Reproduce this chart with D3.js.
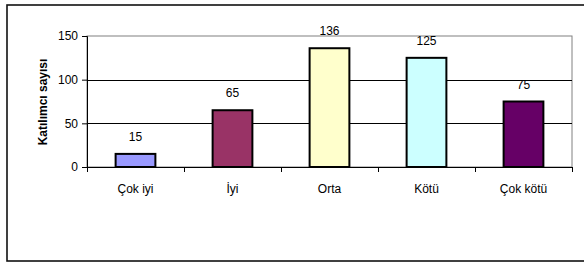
<!DOCTYPE html>
<html>
<head>
<meta charset="utf-8">
<script src="https://cdn.jsdelivr.net/npm/d3@7"></script>
<style>
  body { margin: 0; background: #fff; }
  svg text { font-family: "Liberation Sans", Arial, sans-serif; }
</style>
</head>
<body>
<div id="chart"></div>
<script>
// data
const categories = ['Çok iyi', 'İyi', 'Orta', 'Kötü', 'Çok kötü'];
const values = [15, 65, 136, 125, 75];
const barColors = ['#9999ff', '#993366', '#ffffcc', '#ccffff', '#660066'];
const yTicks = [0, 50, 100, 150];
const yTitle = 'Katılımcı sayısı';

const width = 584, height = 262;
const margin = { top: 36, right: 12, bottom: 95, left: 87 };
const w = width - margin.left - margin.right;
const h = height - margin.top - margin.bottom;

const svg = d3.select('#chart').append('svg')
  .attr('width', width)
  .attr('height', height);

// outer chart frame
svg.append('rect')
  .attr('x', 7).attr('y', 5)
  .attr('width', 600).attr('height', 256)
  .attr('fill', 'none')
  .attr('stroke', '#111')
  .attr('stroke-width', 1.6);

const g = svg.append('g')
  .attr('transform', `translate(${margin.left},${margin.top})`);

const x = d3.scaleBand().domain(categories).range([0, w]).paddingInner(0.59).paddingOuter(0.295);
const y = d3.scaleLinear().domain([0, 150]).range([h, 0]);

// plot area frame (grey)
g.append('rect')
  .attr('x', 0).attr('y', 0)
  .attr('width', w).attr('height', h)
  .attr('fill', 'none')
  .attr('stroke', '#808080')
  .attr('stroke-width', 1);

// gridlines
g.selectAll('.grid')
  .data(yTicks.filter(d => d > 0 && d < 150))
  .join('line')
  .attr('x1', 0).attr('x2', w)
  .attr('y1', d => Math.round(y(d)) + 0.5).attr('y2', d => Math.round(y(d)) + 0.5)
  .attr('stroke', '#000');

// y axis
const yAxis = g.append('g')
  .call(d3.axisLeft(y).tickValues(yTicks).tickSize(5).tickPadding(4));
yAxis.select('.domain').attr('stroke', '#000');
yAxis.selectAll('text').attr('font-size', 12).attr('fill', '#000');

// x axis: ticks between categories
const xAxis = g.append('g').attr('transform', `translate(0,${h})`);
xAxis.append('line').attr('x1', 0).attr('x2', w).attr('y1', 0.5).attr('y2', 0.5).attr('stroke', '#000');
const step = w / categories.length;
xAxis.selectAll('.tick')
  .data(d3.range(categories.length + 1))
  .join('line')
  .attr('x1', i => Math.round(i * step) + 0.5).attr('x2', i => Math.round(i * step) + 0.5)
  .attr('y1', 0).attr('y2', 5)
  .attr('stroke', '#000');
xAxis.selectAll('.lbl')
  .data(categories)
  .join('text')
  .attr('x', d => x(d) + x.bandwidth() / 2)
  .attr('y', 26)
  .attr('text-anchor', 'middle')
  .attr('font-size', 12)
  .text(d => d);

// bars
g.selectAll('.bar')
  .data(categories)
  .join('rect')
  .attr('x', d => x(d))
  .attr('y', (d, i) => y(values[i]))
  .attr('width', x.bandwidth())
  .attr('height', (d, i) => h - y(values[i]))
  .attr('fill', (d, i) => barColors[i])
  .attr('stroke', '#000')
  .attr('stroke-width', 2);

// value labels
g.selectAll('.val')
  .data(categories)
  .join('text')
  .attr('x', d => x(d) + x.bandwidth() / 2)
  .attr('y', (d, i) => y(values[i]) - 13)
  .attr('text-anchor', 'middle')
  .attr('font-size', 12)
  .text((d, i) => values[i]);

// y title
svg.append('text')
  .attr('transform', 'translate(47,102) rotate(-90)')
  .attr('text-anchor', 'middle')
  .attr('font-size', 12)
  .attr('font-weight', 'bold')
  .text(yTitle);
</script>
</body>
</html>
